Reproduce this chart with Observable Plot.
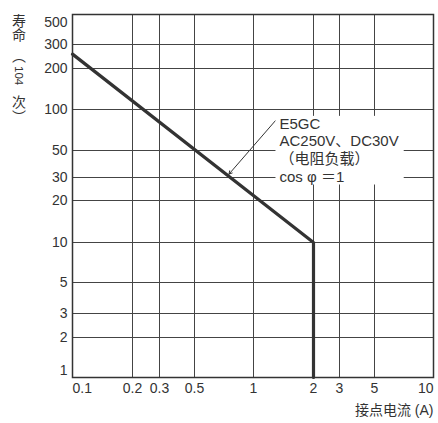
<!DOCTYPE html>
<html><head><meta charset="utf-8">
<script src="https://cdn.jsdelivr.net/npm/d3@7"></script>
<script src="https://cdn.jsdelivr.net/npm/@observablehq/plot@0.6"></script>
<style>
html,body{margin:0;padding:0;background:#fff;}
#wrap{position:relative;width:438px;height:423px;}
#ylab{position:absolute;left:12px;top:14px;writing-mode:vertical-rl;font-size:14px;font-family:"Noto Sans CJK SC",sans-serif;color:#333;line-height:1;white-space:nowrap;}
#ylab .p1{margin-top:7px;}
#ylab .n{margin-top:3px;font-family:"Liberation Sans",Arial,sans-serif;font-size:11.5px;}
#ylab .c{margin-top:10px;}
</style></head><body><div id="wrap"><div id="ylab"></div></div>
<script>
// ---- data ----
const xTicks = [0.1, 0.2, 0.3, 0.5, 1, 2, 3, 5, 10];
const xLabels = ["0.1", "0.2", "0.3", "0.5", "1", "2", "3", "5", "10"];
const yTicks = [1, 2, 3, 5, 10, 20, 30, 50, 100, 200, 300, 500];
const yLabels = ["1", "2", "3", "5", "10", "20", "30", "50", "100", "200", "300", "500"];
const current = [0.1, 2, 2];      // 接点电流 (A)
const life = [255, 10, 1];        // 寿命 (10^4 次)
const noteLines = ["E5GC", "AC250V、DC30V", "（电阻负载）", "cos φ ＝1"];
const noteAt = [1.35, 89];
const leaderFrom = [1.29, 83];
const leaderTo = [0.75, 32];
const xTitle = "接点电流 (A)";
const yTitleParts = ["寿命", "（", "104", "次", "）"];

// ---- layout (the reference's hand-drawn log grid) ----
const X_RANGE = [72, 132, 159, 194, 253, 313, 339, 374, 433];
const Y_RANGE = [377, 337, 313, 282, 242, 200, 177, 150, 109, 68, 44, 14];
const FONT = "'Liberation Sans', Arial, 'Noto Sans CJK SC', sans-serif";
const INK = "#333";

// vertical y title
const yl = document.getElementById("ylab");
const cls = ["", "p1", "n", "c", ""];
yTitleParts.forEach((t, i) => {
  const s = document.createElement("span");
  if (cls[i]) s.className = cls[i];
  s.textContent = t;
  yl.appendChild(s);
});

const curve = current.map((c, i) => ({c, v: life[i]}));
const leader = [{x1: leaderFrom[0], y1: leaderFrom[1], x2: leaderTo[0], y2: leaderTo[1]}];
const last = xTicks.length - 1;

const plot = Plot.plot({
  width: 438, height: 423,
  marginLeft: 72, marginRight: 5, marginTop: 14, marginBottom: 46,
  style: {fontFamily: FONT, fontSize: "14px", color: INK, background: "white"},
  x: {type: "log", domain: xTicks, range: X_RANGE, axis: null},
  y: {type: "log", domain: yTicks, range: Y_RANGE, axis: null},
  marks: [
    Plot.gridX(xTicks.slice(1, -1), {stroke: "#444", strokeOpacity: 1, strokeWidth: 1}),
    Plot.gridY(yTicks.slice(1, -1), {stroke: "#444", strokeOpacity: 1, strokeWidth: 1}),
    Plot.frame({stroke: INK, strokeWidth: 1.5}),
    Plot.line(curve, {x: "c", y: "v", stroke: INK, strokeWidth: 3.2, strokeLinejoin: "miter"}),
    Plot.arrow(leader, {x1: "x1", y1: "y1", x2: "x2", y2: "y2", stroke: INK, strokeWidth: 1, headLength: 5}),
    Plot.text([noteLines.join("\n")], {x: [noteAt[0]], y: [noteAt[1]], text: d => d, textAnchor: "start", lineAnchor: "top", lineHeight: 1.17, fontSize: 15, fill: INK}),
    // x tick labels
    Plot.text([0], {x: i => xTicks[i], text: i => xLabels[i], frameAnchor: "bottom", dy: 11.5, textAnchor: "start", lineAnchor: "middle", fill: INK}),
    Plot.text(d3.range(1, last), {x: i => xTicks[i], text: i => xLabels[i], frameAnchor: "bottom", dy: 11.5, textAnchor: "middle", lineAnchor: "middle", fill: INK}),
    Plot.text([last], {x: i => xTicks[i], text: i => xLabels[i], frameAnchor: "bottom", dy: 11.5, textAnchor: "end", lineAnchor: "middle", fill: INK}),
    // y tick labels
    Plot.text([0], {y: i => yTicks[i], text: i => yLabels[i], frameAnchor: "left", dx: -5, dy: -7, textAnchor: "end", lineAnchor: "middle", fill: INK}),
    Plot.text(d3.range(1, yTicks.length - 1), {y: i => yTicks[i], text: i => yLabels[i], frameAnchor: "left", dx: -5, textAnchor: "end", lineAnchor: "middle", fill: INK}),
    Plot.text([yTicks.length - 1], {y: i => yTicks[i], text: i => yLabels[i], frameAnchor: "left", dx: -5, dy: 8, textAnchor: "end", lineAnchor: "middle", fill: INK}),
    // x title
    Plot.text([xTitle], {text: d => d, frameAnchor: "bottom-right", dy: 33, textAnchor: "end", lineAnchor: "middle", fill: INK})
  ]
});
document.getElementById("wrap").appendChild(plot);

// white box behind the annotation text (gridlines are interrupted there)
const note = Array.from(plot.querySelectorAll("text")).find(t => t.textContent.startsWith(noteLines[0]));
if (note) {
  const b = note.getBBox();
  const r = document.createElementNS("http://www.w3.org/2000/svg", "rect");
  r.setAttribute("x", b.x - 4);
  r.setAttribute("y", b.y + 1);
  r.setAttribute("width", b.width + 9);
  r.setAttribute("height", b.height - 1);
  r.setAttribute("fill", "white");
  const tf = note.getAttribute("transform");
  if (tf) r.setAttribute("transform", tf);
  note.parentNode.insertBefore(r, note);
}
</script></body></html>
